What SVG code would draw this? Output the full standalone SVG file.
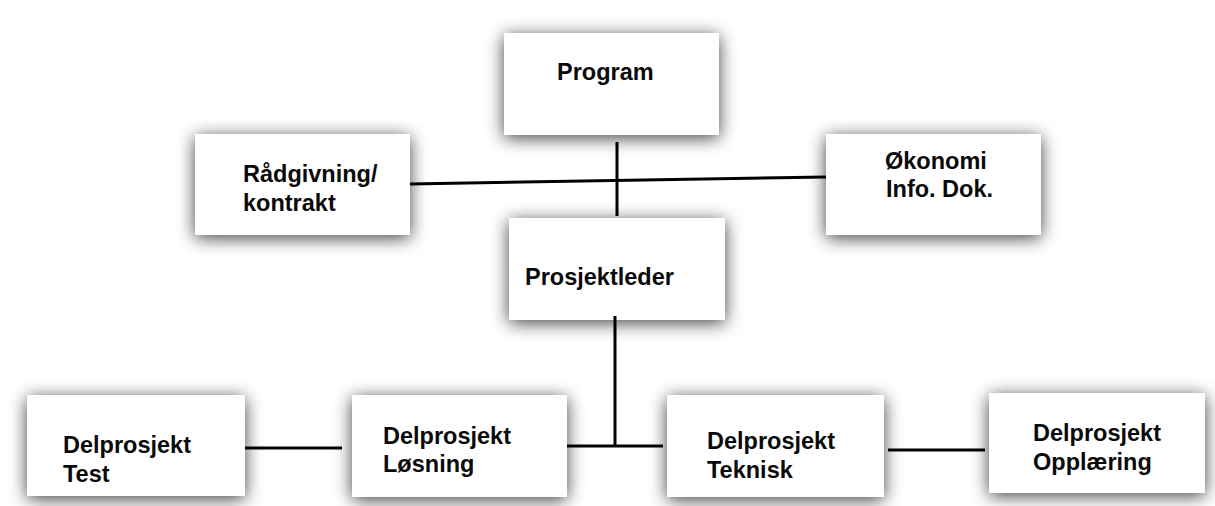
<svg xmlns="http://www.w3.org/2000/svg" width="1215" height="506" viewBox="0 0 1215 506">
  <defs>
    <filter id="sh" x="-30%" y="-40%" width="160%" height="180%">
      <feGaussianBlur in="SourceAlpha" stdDeviation="9"/>
      <feOffset dx="0" dy="3" result="b"/>
      <feComponentTransfer><feFuncA type="linear" slope="0.75"/></feComponentTransfer>
      <feMerge><feMergeNode/><feMergeNode in="SourceGraphic"/></feMerge>
    </filter>
  </defs>
  <style>
    .box { fill: #ffffff; filter: url(#sh); }
    .lbl { font-family: "Liberation Sans", Arial, sans-serif; font-weight: bold; font-size: 23.5px; fill: #0a0a0a; }
    .con { stroke: #000000; stroke-width: 3; fill: none; }
  </style>
  <rect width="1215" height="506" fill="#ffffff"/>

  <g id="program">
    <rect class="box" x="504" y="33" width="215" height="102"/>
    <text class="lbl" x="557" y="80">Program</text>
  </g>
  <g id="radgivning">
    <rect class="box" x="195" y="134" width="215" height="101"/>
    <text class="lbl" x="243" y="182">Rådgivning/</text>
    <text class="lbl" x="243" y="211">kontrakt</text>
  </g>
  <g id="okonomi">
    <rect class="box" x="826" y="134" width="215" height="101"/>
    <text class="lbl" x="885" y="169">Økonomi</text>
    <text class="lbl" x="886" y="197">Info. Dok.</text>
  </g>
  <g id="prosjektleder">
    <rect class="box" x="509" y="218" width="216" height="102"/>
    <text class="lbl" x="525" y="285">Prosjektleder</text>
  </g>
  <g id="delprosjekt-test">
    <rect class="box" x="27" y="395" width="218" height="101"/>
    <text class="lbl" x="63" y="453">Delprosjekt</text>
    <text class="lbl" x="63" y="482">Test</text>
  </g>
  <g id="delprosjekt-losning">
    <rect class="box" x="352" y="395" width="215" height="102"/>
    <text class="lbl" x="383" y="444">Delprosjekt</text>
    <text class="lbl" x="383" y="472">Løsning</text>
  </g>
  <g id="delprosjekt-teknisk">
    <rect class="box" x="667" y="395" width="217" height="102"/>
    <text class="lbl" x="707" y="449">Delprosjekt</text>
    <text class="lbl" x="707" y="478">Teknisk</text>
  </g>
  <g id="delprosjekt-opplaering">
    <rect class="box" x="989" y="393" width="216" height="100"/>
    <text class="lbl" x="1033" y="441">Delprosjekt</text>
    <text class="lbl" x="1033" y="470">Opplæring</text>
  </g>

  <g id="connectors">
    <line class="con" x1="617" y1="142" x2="617" y2="216"/>
    <line class="con" x1="410" y1="184" x2="826" y2="177"/>
    <line class="con" x1="615" y1="316" x2="615" y2="447"/>
    <line class="con" x1="567" y1="446" x2="663" y2="446"/>
    <line class="con" x1="245" y1="448" x2="342" y2="448"/>
    <line class="con" x1="888" y1="450" x2="985" y2="450"/>
  </g>
</svg>
